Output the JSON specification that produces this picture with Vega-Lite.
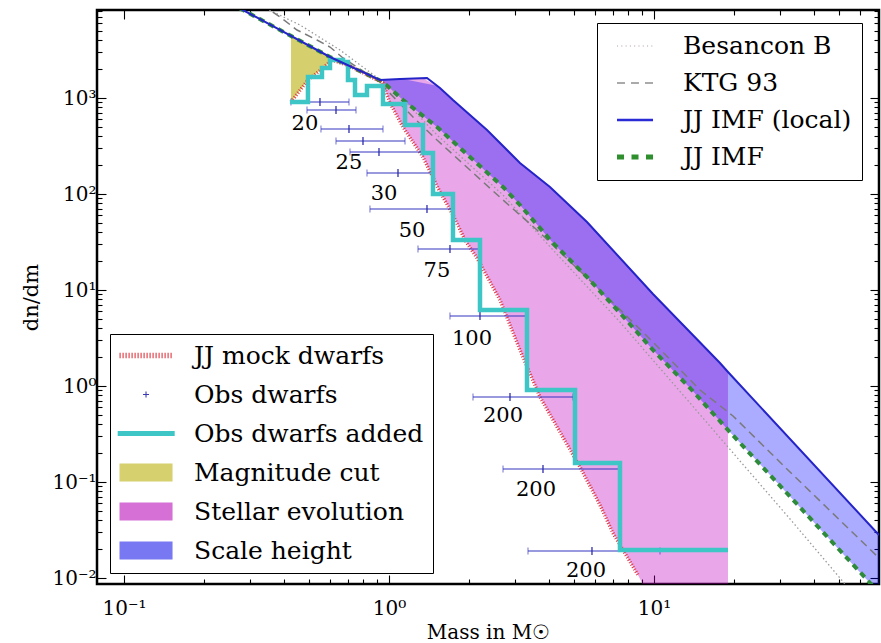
{
  "$schema": "https://vega.github.io/schema/vega-lite/v6.json",
  "width": 782,
  "height": 574,
  "autosize": {"type": "none"},
  "padding": {"left": 97, "top": 10, "right": 2, "bottom": 59},
  "background": "white",
  "config": {
    "view": {"stroke": "black", "strokeWidth": 2.5},
    "font": "DejaVu Serif",
    "axis": {"grid": false, "domain": false, "tickColor": "black", "tickWidth": 1.1}
  },
  "datasets": {
    "besancon": [
      {"m": 0.3120, "dn": 9763}, {"m": 0.4614, "dn": 5758}, {"m": 0.6533, "dn": 3162},
      {"m": 0.8855, "dn": 1695}, {"m": 1.1004, "dn": 1049}, {"m": 1.5175, "dn": 411.8},
      {"m": 2.0215, "dn": 200.5}, {"m": 2.6934, "dn": 97.63}, {"m": 4.1573, "dn": 26.10},
      {"m": 7.4406, "dn": 4.642}, {"m": 13.676, "dn": 0.6652}, {"m": 19.022, "dn": 0.2314},
      {"m": 32.61, "dn": 0.0412}, {"m": 52.58, "dn": 0.00866}, {"m": 57.34, "dn": 0.00649}
    ],
    "ktg": [
      {"m": 0.3318, "dn": 9306}, {"m": 0.3879, "dn": 6981}, {"m": 0.4497, "dn": 5110},
      {"m": 0.5348, "dn": 4019}, {"m": 0.5989, "dn": 3398}, {"m": 0.6705, "dn": 2610},
      {"m": 0.9011, "dn": 1540}, {"m": 1.2320, "dn": 634.1}, {"m": 1.5175, "dn": 365.2},
      {"m": 2.0215, "dn": 177.8}, {"m": 2.6934, "dn": 86.60}, {"m": 3.6184, "dn": 42.17},
      {"m": 6.2550, "dn": 10}, {"m": 9.9135, "dn": 2.873}, {"m": 14.918, "dn": 0.9085},
      {"m": 19.869, "dn": 0.4870}, {"m": 32.61, "dn": 0.1271}, {"m": 70.65, "dn": 0.01616}
    ],
    "jjlocal": [
      {"m": 0.2303, "dn": 11010}, {"m": 0.2812, "dn": 8254}, {"m": 0.5989, "dn": 2674},
      {"m": 0.9247, "dn": 1540}, {"m": 1.1004, "dn": 1577}, {"m": 1.3912, "dn": 1616},
      {"m": 1.5573, "dn": 1272}, {"m": 1.7437, "dn": 953.3}, {"m": 2.3436, "dn": 464.2},
      {"m": 3.1209, "dn": 210.3}, {"m": 4.0503, "dn": 118.3}, {"m": 5.5879, "dn": 51.09},
      {"m": 9.9135, "dn": 9.085}, {"m": 17.746, "dn": 1.736}, {"m": 19.022, "dn": 1.399},
      {"m": 70.65, "dn": 0.02804}
    ],
    "jjimf": [
      {"m": 0.2303, "dn": 11010}, {"m": 0.2812, "dn": 8254}, {"m": 0.5989, "dn": 2674},
      {"m": 0.9492, "dn": 1468}, {"m": 1.1293, "dn": 953.3}, {"m": 1.5175, "dn": 498.8},
      {"m": 2.0215, "dn": 242.9}, {"m": 2.6934, "dn": 118.3}, {"m": 3.1209, "dn": 76.81},
      {"m": 4.1573, "dn": 30.87}, {"m": 5.5879, "dn": 13.66}, {"m": 7.4406, "dn": 5.759},
      {"m": 9.9135, "dn": 2.371}, {"m": 13.676, "dn": 0.9532}, {"m": 19.022, "dn": 0.3480},
      {"m": 32.61, "dn": 0.0706}, {"m": 65.91, "dn": 0.00866}, {"m": 70.65, "dn": 0.00698}
    ],
    "mock": [
      {"m": 0.4267, "dn": 908.5}, {"m": 0.4946, "dn": 1540}, {"m": 0.5586, "dn": 2005},
      {"m": 0.6094, "dn": 2488}, {"m": 0.7126, "dn": 2154}, {"m": 0.9492, "dn": 1433},
      {"m": 1.0087, "dn": 887.0}, {"m": 1.1293, "dn": 498.8}, {"m": 1.3437, "dn": 242.9},
      {"m": 1.5307, "dn": 115.5}, {"m": 1.7437, "dn": 60.43}, {"m": 1.9356, "dn": 33.19},
      {"m": 2.1484, "dn": 21.54}, {"m": 2.6242, "dn": 7.867}, {"m": 3.1209, "dn": 2.371},
      {"m": 3.7136, "dn": 0.7680}, {"m": 4.4193, "dn": 0.3318}, {"m": 5.2584, "dn": 0.1433},
      {"m": 6.2550, "dn": 0.05759}, {"m": 7.0000, "dn": 0.02942}, {"m": 8.7002, "dn": 0.01074}
    ],
    "obsadded": [
      {"m": 0.4229, "dn": 908.5}, {"m": 0.4946, "dn": 1655}, {"m": 0.5586, "dn": 2054},
      {"m": 0.5989, "dn": 2488}, {"m": 0.6705, "dn": 2371}, {"m": 0.7003, "dn": 1540},
      {"m": 0.7443, "dn": 1075}, {"m": 0.8260, "dn": 1334}, {"m": 0.9492, "dn": 865.9},
      {"m": 1.1494, "dn": 523.3}, {"m": 1.3437, "dn": 267.4}, {"m": 1.4656, "dn": 100},
      {"m": 1.7437, "dn": 33.19}, {"m": 2.2049, "dn": 6.190}, {"m": 3.3174, "dn": 0.9085},
      {"m": 5.0347, "dn": 0.1577}, {"m": 7.4406, "dn": 0.01957}, {"m": 19.022, "dn": 0.01957}
    ],
    "magcut": [
      {"m": 0.4267, "hi": 4436, "lo": 908.5}, {"m": 0.4946, "hi": 3556, "lo": 1540},
      {"m": 0.5586, "hi": 2964, "lo": 2005}, {"m": 0.6094, "hi": 2610, "lo": 2488},
      {"m": 0.6310, "hi": 2500, "lo": 2500}
    ],
    "stellar": [
      {"m": 0.9492, "hi": 1540, "lo": 1433}, {"m": 1.0087, "hi": 1558, "lo": 887.0},
      {"m": 1.1293, "hi": 1580, "lo": 498.8}, {"m": 1.3437, "hi": 1610, "lo": 242.9},
      {"m": 1.5307, "hi": 1318, "lo": 115.5}, {"m": 1.7437, "hi": 953.3, "lo": 60.43},
      {"m": 1.9356, "hi": 739, "lo": 33.19}, {"m": 2.1484, "hi": 573, "lo": 21.54},
      {"m": 2.6242, "hi": 339.9, "lo": 7.867}, {"m": 3.1209, "hi": 210.3, "lo": 2.371},
      {"m": 3.7136, "hi": 143.3, "lo": 0.7680}, {"m": 4.4193, "hi": 94.2, "lo": 0.3318},
      {"m": 5.2584, "hi": 59.8, "lo": 0.1433}, {"m": 6.2550, "hi": 36.35, "lo": 0.05759},
      {"m": 7.0000, "hi": 25.85, "lo": 0.02942}, {"m": 8.7002, "hi": 13.46, "lo": 0.01074},
      {"m": 9.659, "hi": 9.83, "lo": 0.0062}, {"m": 10.535, "hi": 7.64, "lo": 0.001},
      {"m": 14.918, "hi": 2.846, "lo": 0.001}, {"m": 19.022, "hi": 1.399, "lo": 0.001}
    ],
    "scaleh": [
      {"m": 0.9492, "hi": 1540, "lo": 1468}, {"m": 1.1293, "hi": 1580, "lo": 953.3},
      {"m": 1.5175, "hi": 1343, "lo": 498.8}, {"m": 2.0215, "hi": 665.2, "lo": 242.9},
      {"m": 2.6934, "hi": 316.2, "lo": 118.3}, {"m": 3.1209, "hi": 210.3, "lo": 76.81},
      {"m": 4.1573, "hi": 110.7, "lo": 30.87}, {"m": 5.5879, "hi": 51.09, "lo": 13.66},
      {"m": 7.4406, "hi": 21.54, "lo": 5.759}, {"m": 9.9135, "hi": 9.085, "lo": 2.371},
      {"m": 13.676, "hi": 3.642, "lo": 0.9532}, {"m": 19.022, "hi": 1.399, "lo": 0.348},
      {"m": 32.61, "hi": 0.2804, "lo": 0.0706}, {"m": 70.65, "hi": 0.02804, "lo": 0.00698}
    ],
    "obs": [
      {"m": 0.5490, "lo": 0.4267, "hi": 0.7064, "dn": 908.5},
      {"m": 0.6310, "lo": 0.4904, "hi": 0.7508, "dn": 749.9},
      {"m": 0.7064, "lo": 0.5538, "hi": 0.9492, "dn": 475.5},
      {"m": 0.7978, "lo": 0.6310, "hi": 1.1494, "dn": 356.5},
      {"m": 0.9168, "lo": 0.7126, "hi": 1.3437, "dn": 273.8},
      {"m": 1.0814, "lo": 0.8260, "hi": 1.4530, "dn": 165.5},
      {"m": 1.3912, "lo": 0.8477, "hi": 1.7287, "dn": 69.79},
      {"m": 1.6988, "lo": 1.2866, "hi": 2.2049, "dn": 26.74},
      {"m": 2.2049, "lo": 1.6988, "hi": 3.3460, "dn": 5.360},
      {"m": 2.8617, "lo": 2.0749, "hi": 4.9480, "dn": 0.7680},
      {"m": 3.8118, "lo": 2.6934, "hi": 7.4406, "dn": 0.1366},
      {"m": 5.8345, "lo": 3.3460, "hi": 10.535, "dn": 0.01910}
    ],
    "labels": [
      {"m": 0.4819, "dn": 536.0, "label": "20"},
      {"m": 0.7064, "dn": 210.3, "label": "25"},
      {"m": 0.9575, "dn": 100, "label": "30"},
      {"m": 1.2213, "dn": 41.17, "label": "50"},
      {"m": 1.5175, "dn": 15.78, "label": "75"},
      {"m": 2.0570, "dn": 3.087, "label": "100"},
      {"m": 2.6934, "dn": 0.4870, "label": "200"},
      {"m": 3.5859, "dn": 0.08254, "label": "200"},
      {"m": 5.5395, "dn": 0.01183, "label": "200"}
    ],
    "legend1": [
      {"entry": "Besancon B"}, {"entry": "KTG 93"}, {"entry": "JJ IMF (local)"}, {"entry": "JJ IMF"}
    ],
    "legend2": [
      {"entry": "JJ mock dwarfs"}, {"entry": "Obs dwarfs"}, {"entry": "Obs dwarfs added"},
      {"entry": "Magnitude cut"}, {"entry": "Stellar evolution"}, {"entry": "Scale height"}
    ]
  },
  "layer": [
    {
      "layer": [
        {
          "data": {"name": "magcut"},
          "mark": {"type": "area", "color": "#d6cf6e", "opacity": 1, "clip": true},
          "encoding": {
            "x": {
              "field": "m", "type": "quantitative",
              "scale": {"type": "log", "domain": [0.0791, 70.65], "nice": false},
              "axis": {
                "orient": "bottom",
                "values": [0.1,0.2,0.3,0.4,0.5,0.6,0.7,0.8,0.9,1,2,3,4,5,6,7,8,9,10,20,30,40,50,60,70],
                "labelExpr": "datum.value==0.1?'10⁻¹':datum.value==1?'10⁰':datum.value==10?'10¹':''",
                "tickSize": {"condition": {"test": "datum.value==0.1||datum.value==1||datum.value==10", "value": -9}, "value": -5},
                "labelFont": "DejaVu Serif", "labelFontSize": 20, "labelColor": "black",
                "labelPadding": 23, "labelOverlap": false, "labelFlush": false,
                "titleFont": "DejaVu Serif", "titleFontSize": 20, "titleFontWeight": "normal",
                "titleColor": "black", "titlePadding": 0
              },
              "title": "Mass in M☉"
            },
            "y": {
              "field": "hi", "type": "quantitative",
              "scale": {"type": "log", "domain": [0.00866, 8254], "nice": false},
              "axis": {
                "orient": "left",
                "values": [0.01,0.02,0.03,0.04,0.05,0.06,0.07,0.08,0.09,0.1,0.2,0.3,0.4,0.5,0.6,0.7,0.8,0.9,1,2,3,4,5,6,7,8,9,10,20,30,40,50,60,70,80,90,100,200,300,400,500,600,700,800,900,1000,2000,3000,4000,5000,6000,7000,8000],
                "labelExpr": "datum.value==0.01?'10⁻²':datum.value==0.1?'10⁻¹':datum.value==1?'10⁰':datum.value==10?'10¹':datum.value==100?'10²':datum.value==1000?'10³':''",
                "tickSize": {"condition": {"test": "datum.value==0.01||datum.value==0.1||datum.value==1||datum.value==10||datum.value==100||datum.value==1000", "value": -9}, "value": -5},
                "labelFont": "DejaVu Serif", "labelFontSize": 20, "labelColor": "black",
                "labelPadding": 10, "labelOverlap": false, "labelFlush": false,
                "titleFont": "DejaVu Serif", "titleFontSize": 21, "titleFontWeight": "normal",
                "titleColor": "black", "titlePadding": 10
              },
              "title": "dn/dm"
            },
            "y2": {"field": "lo"}
          }
        },
        {
          "data": {"name": "stellar"},
          "mark": {"type": "area", "color": "#bf00bf", "opacity": 0.35, "clip": true},
          "encoding": {
            "x": {"field": "m", "type": "quantitative"},
            "y": {"field": "hi", "type": "quantitative"},
            "y2": {"field": "lo"}
          }
        },
        {
          "data": {"name": "scaleh"},
          "mark": {"type": "area", "color": "#0000ff", "opacity": 0.33, "clip": true},
          "encoding": {
            "x": {"field": "m", "type": "quantitative"},
            "y": {"field": "hi", "type": "quantitative"},
            "y2": {"field": "lo"}
          }
        },
        {
          "data": {"name": "besancon"},
          "mark": {"type": "line", "color": "#9a9a9a", "strokeWidth": 1.3, "strokeDash": [1.5, 2.5], "clip": true},
          "encoding": {
            "x": {"field": "m", "type": "quantitative"},
            "y": {"field": "dn", "type": "quantitative"}
          }
        },
        {
          "data": {"name": "ktg"},
          "mark": {"type": "line", "color": "#7a7a7a", "strokeWidth": 1.5, "strokeDash": [8, 5], "clip": true},
          "encoding": {
            "x": {"field": "m", "type": "quantitative"},
            "y": {"field": "dn", "type": "quantitative"}
          }
        },
        {
          "data": {"name": "jjimf"},
          "mark": {"type": "line", "color": "#2e8b3a", "strokeWidth": 4, "strokeDash": [6, 5], "clip": true},
          "encoding": {
            "x": {"field": "m", "type": "quantitative"},
            "y": {"field": "dn", "type": "quantitative"}
          }
        },
        {
          "data": {"name": "mock"},
          "mark": {"type": "line", "color": "#e03a40", "strokeWidth": 3.5, "strokeDash": [1, 1.8], "clip": true},
          "encoding": {
            "x": {"field": "m", "type": "quantitative"},
            "y": {"field": "dn", "type": "quantitative"}
          }
        },
        {
          "data": {"name": "obs"},
          "mark": {"type": "rule", "color": "#3535c0", "strokeWidth": 1.2, "clip": true},
          "encoding": {
            "x": {"field": "lo", "type": "quantitative"},
            "x2": {"field": "hi"},
            "y": {"field": "dn", "type": "quantitative"}
          }
        },
        {
          "data": {"name": "obs"},
          "mark": {"type": "tick", "orient": "vertical", "color": "#3535c0", "size": 7, "thickness": 1, "clip": true},
          "encoding": {
            "x": {"field": "lo", "type": "quantitative"},
            "y": {"field": "dn", "type": "quantitative"}
          }
        },
        {
          "data": {"name": "obs"},
          "mark": {"type": "tick", "orient": "vertical", "color": "#3535c0", "size": 7, "thickness": 1, "clip": true},
          "encoding": {
            "x": {"field": "hi", "type": "quantitative"},
            "y": {"field": "dn", "type": "quantitative"}
          }
        },
        {
          "data": {"name": "obs"},
          "mark": {"type": "tick", "orient": "vertical", "color": "#2a2aa8", "size": 8, "thickness": 1.8, "clip": true},
          "encoding": {
            "x": {"field": "m", "type": "quantitative"},
            "y": {"field": "dn", "type": "quantitative"}
          }
        },
        {
          "data": {"name": "obsadded"},
          "mark": {"type": "line", "interpolate": "step-after", "color": "#3ec6c6", "strokeWidth": 4.5, "clip": true},
          "encoding": {
            "x": {"field": "m", "type": "quantitative"},
            "y": {"field": "dn", "type": "quantitative"}
          }
        },
        {
          "data": {"name": "labels"},
          "mark": {"type": "text", "font": "DejaVu Serif", "fontSize": 21, "color": "black", "align": "center", "baseline": "middle"},
          "encoding": {
            "x": {"field": "m", "type": "quantitative"},
            "y": {"field": "dn", "type": "quantitative"},
            "text": {"field": "label", "type": "nominal"}
          }
        }
      ]
    },
    {
      "data": {"name": "jjlocal"},
      "mark": {"type": "line", "color": "#2424c8", "strokeWidth": 2, "clip": true},
      "encoding": {
        "x": {
          "field": "m", "type": "quantitative",
          "axis": {
            "orient": "top", "labels": false, "title": null,
            "values": [0.1,0.2,0.3,0.4,0.5,0.6,0.7,0.8,0.9,1,2,3,4,5,6,7,8,9,10,20,30,40,50,60,70],
            "tickSize": {"condition": {"test": "datum.value==0.1||datum.value==1||datum.value==10", "value": -9}, "value": -5}
          }
        },
        "y": {
          "field": "dn", "type": "quantitative",
          "axis": {
            "orient": "right", "labels": false, "title": null,
            "values": [0.01,0.02,0.03,0.04,0.05,0.06,0.07,0.08,0.09,0.1,0.2,0.3,0.4,0.5,0.6,0.7,0.8,0.9,1,2,3,4,5,6,7,8,9,10,20,30,40,50,60,70,80,90,100,200,300,400,500,600,700,800,900,1000,2000,3000,4000,5000,6000,7000,8000],
            "tickSize": {"condition": {"test": "datum.value==0.01||datum.value==0.1||datum.value==1||datum.value==10||datum.value==100||datum.value==1000", "value": -9}, "value": -5}
          }
        }
      }
    },
    {
      "data": {"name": "legend1"},
      "transform": [{"filter": "false"}],
      "mark": {"type": "point", "filled": true, "opacity": 1},
      "encoding": {
        "color": {
          "field": "entry", "type": "nominal",
          "scale": {"domain": ["Besancon B", "KTG 93", "JJ IMF (local)", "JJ IMF"], "range": ["#b0a0a4", "#8f8f8f", "#2b2bd6", "#2f8f2f"]},
          "legend": {"orient": "none", "legendX": 500, "legendY": 13, "title": null, "symbolSize": 676, "symbolStrokeWidth": 0, "symbolOpacity": 1, "labelFont": "DejaVu Serif", "labelFontSize": 25, "labelColor": "black", "labelOffset": 50, "labelLimit": 400, "padding": 10, "symbolOffset": 0, "rowPadding": 11, "strokeColor": "black", "fillColor": "white", "cornerRadius": 0}
        },
        "shape": {
          "field": "entry", "type": "nominal",
          "scale": {"domain": ["Besancon B", "KTG 93", "JJ IMF (local)", "JJ IMF"], "range": [
            "M-0.23,-0.04h0.08v0.08h-0.08ZM0.1,-0.04h0.08v0.08h-0.08ZM0.43,-0.04h0.08v0.08h-0.08ZM0.76,-0.04h0.08v0.08h-0.08ZM1.09,-0.04h0.08v0.08h-0.08ZM1.42,-0.04h0.08v0.08h-0.08ZM1.75,-0.04h0.08v0.08h-0.08ZM2.08,-0.04h0.08v0.08h-0.08ZM2.41,-0.04h0.08v0.08h-0.08Z",
            "M-0.23,-0.06H0.385V0.06H-0.23ZM0.845,-0.06H1.46V0.06H0.845ZM1.92,-0.06H2.54V0.06H1.92Z",
            "M-0.23,-0.1H2.54V0.1H-0.23Z",
            "M-0.23,-0.19H0.31V0.19H-0.23ZM0.885,-0.19H1.425V0.19H0.885ZM2.0,-0.19H2.54V0.19H2.0Z"
          ]},
          "legend": {"orient": "none", "legendX": 500, "legendY": 13, "title": null, "symbolSize": 676, "symbolStrokeWidth": 0, "symbolOpacity": 1, "labelFont": "DejaVu Serif", "labelFontSize": 25, "labelColor": "black", "labelOffset": 50, "labelLimit": 400, "padding": 10, "symbolOffset": 0, "rowPadding": 11, "strokeColor": "black", "fillColor": "white", "cornerRadius": 0}
        }
      }
    },
    {
      "data": {"name": "legend2"},
      "transform": [{"filter": "false"}],
      "mark": {"type": "point", "filled": true, "opacity": 1},
      "encoding": {
        "color": {
          "field": "entry", "type": "nominal",
          "scale": {"domain": ["JJ mock dwarfs", "Obs dwarfs", "Obs dwarfs added", "Magnitude cut", "Stellar evolution", "Scale height"], "range": ["#e04850", "#3a3ab8", "#3ec6c6", "#d6d06e", "#d670d6", "#7878f2"]},
          "legend": {"orient": "none", "legendX": 13, "legendY": 324, "title": null, "symbolSize": 576, "symbolStrokeWidth": 0, "symbolOpacity": 1, "labelFont": "DejaVu Serif", "labelFontSize": 25, "labelColor": "black", "labelOffset": 50, "labelLimit": 400, "padding": 9, "symbolOffset": 0, "rowPadding": 13, "strokeColor": "black", "fillColor": "white", "cornerRadius": 0}
        },
        "shape": {
          "field": "entry", "type": "nominal",
          "scale": {"domain": ["JJ mock dwarfs", "Obs dwarfs", "Obs dwarfs added", "Magnitude cut", "Stellar evolution", "Scale height"], "range": [
            "M-1,-0.23h0.1v0.46h-0.1ZM-0.75,-0.23h0.1v0.46h-0.1ZM-0.5,-0.23h0.1v0.46h-0.1ZM-0.25,-0.23h0.1v0.46h-0.1ZM0,-0.23h0.1v0.46h-0.1ZM0.25,-0.23h0.1v0.46h-0.1ZM0.5,-0.23h0.1v0.46h-0.1ZM0.75,-0.23h0.1v0.46h-0.1ZM1,-0.23h0.1v0.46h-0.1ZM1.25,-0.23h0.1v0.46h-0.1ZM1.5,-0.23h0.1v0.46h-0.1ZM1.75,-0.23h0.1v0.46h-0.1ZM2,-0.23h0.1v0.46h-0.1ZM2.25,-0.23h0.1v0.46h-0.1ZM2.5,-0.23h0.1v0.46h-0.1ZM2.75,-0.23h0.1v0.46h-0.1ZM3,-0.23h0.1v0.46h-0.1ZM3.25,-0.23h0.1v0.46h-0.1Z",
            "M0.96,-0.045H1.46V0.045H0.96ZM1.165,-0.25H1.255V0.25H1.165Z",
            "M-1.15,-0.21H3.6V0.21H-1.15Z",
            "M-1,-0.75H3.42V0.75H-1Z",
            "M-1,-0.75H3.42V0.75H-1Z",
            "M-1,-0.75H3.42V0.75H-1Z"
          ]},
          "legend": {"orient": "none", "legendX": 13, "legendY": 324, "title": null, "symbolSize": 576, "symbolStrokeWidth": 0, "symbolOpacity": 1, "labelFont": "DejaVu Serif", "labelFontSize": 25, "labelColor": "black", "labelOffset": 50, "labelLimit": 400, "padding": 9, "symbolOffset": 0, "rowPadding": 13, "strokeColor": "black", "fillColor": "white", "cornerRadius": 0}
        }
      }
    }
  ],
  "resolve": {
    "scale": {"color": "independent", "shape": "independent"},
    "axis": {"x": "independent", "y": "independent"}
  }
}
